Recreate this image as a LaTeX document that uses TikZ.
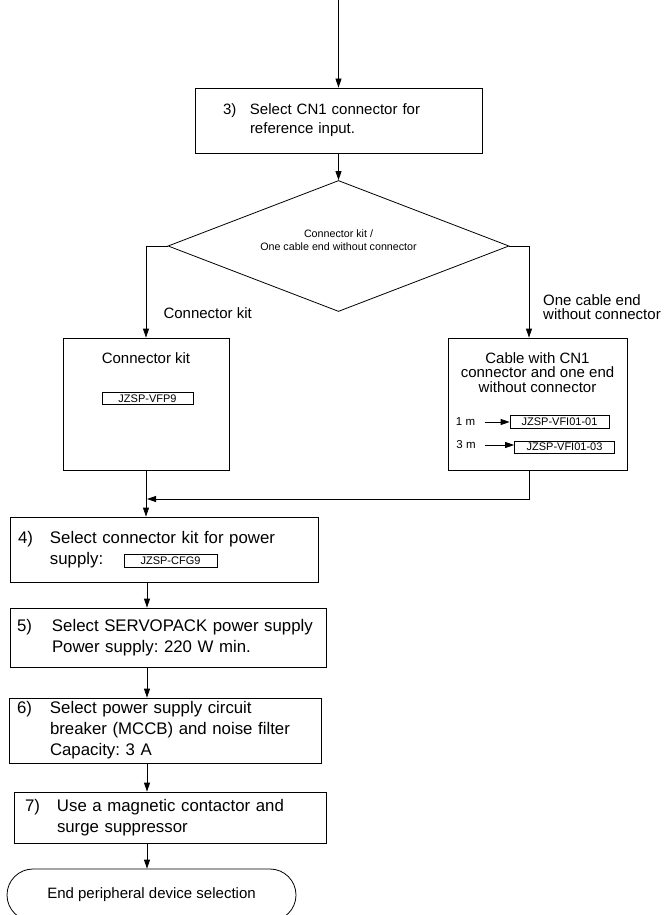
\documentclass[tikz,border=0pt]{standalone}
\usepackage{fontspec}
\setmainfont{Liberation Sans}
\usetikzlibrary{arrows.meta,shapes.geometric}
\frenchspacing

\tikzset{
	flow/.style={line width=0.8pt, -{Triangle[length=9pt,width=6pt]}},
	stepbox/.style={draw, line width=0.8pt, align=left, inner ysep=0pt, font=\fontsize{16.8}{21}\selectfont},
	groupbox/.style={draw, line width=0.8pt, inner sep=0pt},
	partbox/.style={draw, line width=0.7pt, inner sep=0pt, font=\fontsize{11}{12}\selectfont},
	smalltext/.style={align=center, font=\fontsize{10.7}{13}\selectfont},
	midtext/.style={font=\fontsize{15}{14.5}\selectfont}
}

\begin{document}
\begin{tikzpicture}[x=1pt, y=-1pt]

\path [use as bounding box] (0,0) rectangle (664,915);

% STEP 3 AND CHOICE
\coordinate (start) at (338.5,0);
\node [stepbox, font=\fontsize{15}{19}\selectfont, inner xsep=28pt, text width=231pt, minimum height=65pt] (sel3) at (338.5,120.5)
	{\begin{tabular}{@{}p{27pt}@{}l@{}}3) & Select CN1 connector for\\ & reference input.\end{tabular}};
\node [draw, diamond, line width=0.8pt, inner sep=0pt, minimum width=341pt, minimum height=131pt] (q) at (338.5,246) {};
\node [smalltext] (qtext) at ([yshift=6pt]q.center) {Connector kit /\\One cable end without connector};

\draw [flow] (start) -- (sel3.north);
\draw [flow] (sel3.south) -- (q.north);

% BRANCHES
\coordinate (ql) at (146,246);
\coordinate (qr) at (529,246);
\node [midtext, anchor=west] (leftlabel) at (160,313) {Connector kit};
\node [midtext, anchor=north west, align=left, inner sep=0pt] (rightlabel) at (543,294) {One cable end\\without connector};

% KIT BOX
\node [groupbox, minimum width=166pt, minimum height=132pt] (kit) at (146,404) {};
\node [midtext] (kittitle) at (146,358) {Connector kit};
\node [partbox, minimum width=91pt, minimum height=12pt] (kitpart) at (147.5,398.5) {JZSP-VFP9};

% CABLE BOX
\node [groupbox, minimum width=179pt, minimum height=132pt] (cable) at (537.5,404) {};
\node [midtext, align=center] (cabletitle) at (537.5,372.5) {Cable with CN1\\connector and one end\\without connector};
\node [font=\fontsize{11.5}{12}\selectfont] (len1) at (465.5,422) {1 m};
\node [font=\fontsize{11.5}{12}\selectfont] (len2) at (466,445) {3 m};
\node [partbox, minimum width=99pt, minimum height=13pt] (part1) at (559.5,421.5) {JZSP-VFI01-01};
\node [partbox, minimum width=100pt, minimum height=12pt] (part2) at (564.5,447) {JZSP-VFI01-03};
\draw [flow] ([xshift=6pt]len1.east) -- (len1.east -| part1.west);
\draw [flow] ([xshift=6pt]len2.east) -- (len2.east -| part2.west);

\draw [flow] (q.west) -- (ql) -- (kit.north);
\draw [flow] (q.east) -- (qr) -- (qr |- cable.north);

% STEPS 4 TO 7
\coordinate (spine) at (147,499);
\node [stepbox, inner xsep=8pt, text width=292pt, minimum height=65pt] (sel4) at (164,549.5)
	{\begin{tabular}{@{}p{32pt}@{}l@{}}4) & Select connector kit for power\\ & supply:\end{tabular}};
\node [partbox, minimum width=93pt, minimum height=13pt] (cfg) at (170.5,560.5) {JZSP-CFG9};
\node [stepbox, inner xsep=7pt, text width=302pt, minimum height=59pt] (sel5) at (168,637.5)
	{\begin{tabular}{@{}p{35pt}@{}l@{}}5) & Select SERVOPACK power supply\\ & Power supply: 220 W min.\end{tabular}};
\node [stepbox, inner xsep=8pt, text width=296pt, minimum height=65pt] (sel6) at (165,730.5)
	{\begin{tabular}{@{}p{33pt}@{}l@{}}6) & Select power supply circuit\\ & breaker (MCCB) and noise filter\\ & Capacity: 3 A\end{tabular}};
\node [stepbox, inner xsep=11pt, text width=290pt, minimum height=51pt] (sel7) at (170,817.5)
	{\begin{tabular}{@{}p{32pt}@{}l@{}}7) & Use a magnetic contactor and\\ & surge suppressor\end{tabular}};
\node [draw, line width=0.8pt, rounded corners=26pt, minimum width=289pt, minimum height=52pt, midtext] (finish) at (151.5,895) {End peripheral device selection};

\draw [flow] (qr |- cable.south) |- (spine);
\draw [flow] (kit.south) -- (sel4.north -| kit.south);
\draw [flow] (sel4.south -| spine) -- (sel5.north -| spine);
\draw [flow] (sel5.south -| spine) -- (sel6.north -| spine);
\draw [flow] (sel6.south -| spine) -- (sel7.north -| spine);
\draw [flow] (sel7.south -| spine) -- (finish.north -| spine);

\end{tikzpicture}
\end{document}
